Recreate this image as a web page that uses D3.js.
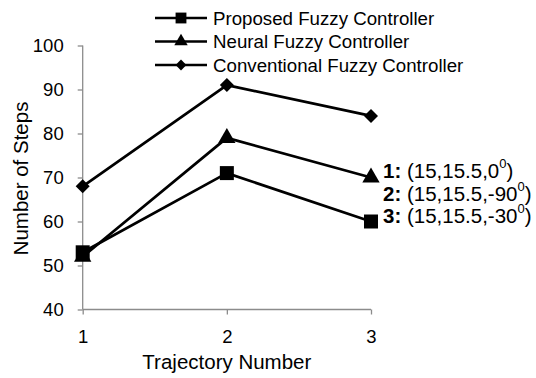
<!DOCTYPE html>
<html>
<head>
<meta charset="utf-8">
<script src="https://cdn.jsdelivr.net/npm/d3@7"></script>
<style>
  html, body { margin: 0; padding: 0; background: #fff; }
  svg { display: block; font-family: Arial, "Liberation Sans", sans-serif; }
</style>
</head>
<body>
<svg id="chart" width="536" height="378"></svg>
<script>
// Trajectory numbers on the x axis
const trajectories = [1, 2, 3];
// Number of steps for each controller
const proposedSteps = [53, 71, 60];
const neuralSteps = [52, 79, 70];
const conventionalSteps = [68, 91, 84];
const seriesNames = ["Proposed Fuzzy Controller", "Neural Fuzzy Controller", "Conventional Fuzzy Controller"];
const yTicks = [40, 50, 60, 70, 80, 90, 100];
// Initial conditions of each trajectory
const trajectoryLabels = ["1:", "2:", "3:"];
const trajectoryConds = ["(15,15.5,0", "(15,15.5,-90", "(15,15.5,-30"];

// Square-ish diamond marker (rotated square)
const diamondSquare = {
  draw(context, size) {
    const r = Math.sqrt(size / 2);
    context.moveTo(0, -r);
    context.lineTo(r, 0);
    context.lineTo(0, r);
    context.lineTo(-r, 0);
    context.closePath();
  }
};

const series = [
  { name: seriesNames[0], values: proposedSteps, symbol: d3.symbolSquare, size: 196 },
  { name: seriesNames[1], values: neuralSteps, symbol: d3.symbolTriangle, size: 130 },
  { name: seriesNames[2], values: conventionalSteps, symbol: diamondSquare, size: 98 }
];

const svg = d3.select("#chart");
const tickFont = 18.5;
const titleFont = 20.5;
const legendFont = 18.7;
const noteFont = 20.5;
const axisColor = "#8c8c8c";
const fontFamily = "Arial, 'Liberation Sans', sans-serif";

const x = d3.scaleLinear().domain([1, 3]).range([82.7, 371]);
const y = d3.scaleLinear().domain([40, 100]).range([309.5, 45.5]);

// Y axis
const yAxis = svg.append("g").attr("transform", `translate(${x(1)},0)`)
  .call(d3.axisLeft(y).tickValues(yTicks).tickSize(5).tickPadding(14).tickFormat(d3.format("d")));
// X axis
const xAxis = svg.append("g").attr("transform", `translate(0,${y(40)})`)
  .call(d3.axisBottom(x).tickValues(trajectories).tickSize(5).tickPadding(15).tickFormat(d3.format("d")));

[yAxis, xAxis].forEach(g => {
  g.select(".domain").attr("stroke", axisColor).attr("stroke-width", 1.3);
  g.selectAll(".tick line").attr("stroke", axisColor).attr("stroke-width", 1.3);
  g.selectAll(".tick text").attr("fill", "#000").style("font-size", tickFont + "px")
    .style("font-family", fontFamily);
});
// Axes end exactly at the data range
yAxis.select(".domain").attr("d", `M0,${y(40)}V${y(100)}`);
xAxis.select(".domain").attr("d", `M${x(1)},0H${x(3)}`);

// Axis titles
svg.append("text")
  .attr("x", x(2)).attr("y", 369)
  .attr("text-anchor", "middle")
  .style("font-size", titleFont + "px")
  .text("Trajectory Number");

svg.append("text")
  .attr("transform", `translate(28,178.5) rotate(-90)`)
  .attr("text-anchor", "middle")
  .style("font-size", titleFont + "px")
  .text("Number of Steps");

// Lines and markers
const line = d3.line().x((d, i) => x(trajectories[i])).y(d => y(d));
series.forEach(s => {
  svg.append("path").datum(s.values)
    .attr("d", line).attr("fill", "none")
    .attr("stroke", "#000").attr("stroke-width", 2.7)
    .attr("stroke-linejoin", "round");
  svg.selectAll(null).data(s.values).join("path")
    .attr("transform", (d, i) => `translate(${x(trajectories[i])},${y(d)})`)
    .attr("d", d3.symbol().type(s.symbol).size(s.size))
    .attr("fill", "#000");
});

// Legend
const legendRows = [18, 41.5, 65];
series.forEach((s, i) => {
  const g = svg.append("g").attr("transform", `translate(0,${legendRows[i]})`);
  g.append("line").attr("x1", 155).attr("x2", 207).attr("y1", 0).attr("y2", 0)
    .attr("stroke", "#000").attr("stroke-width", 2.7);
  g.append("path").attr("transform", "translate(181,0)")
    .attr("d", d3.symbol().type(s.symbol).size(s.size * 0.6)).attr("fill", "#000");
  g.append("text").attr("x", 213).attr("y", 0)
    .attr("dominant-baseline", "central")
    .style("font-size", legendFont + "px")
    .text(s.name);
});

// Trajectory initial conditions
const annRows = [170, 192.5, 215];
trajectoryLabels.forEach((lab, i) => {
  const t = svg.append("text").attr("x", 383).attr("y", annRows[i])
    .attr("dominant-baseline", "central")
    .style("font-size", noteFont + "px");
  t.append("tspan").attr("font-weight", "bold").text(lab);
  t.append("tspan").text(" " + trajectoryConds[i]);
  t.append("tspan").attr("dy", -7).style("font-size", "13px").text("0");
  t.append("tspan").attr("dy", 7).text(")");
});
</script>
</body>
</html>
